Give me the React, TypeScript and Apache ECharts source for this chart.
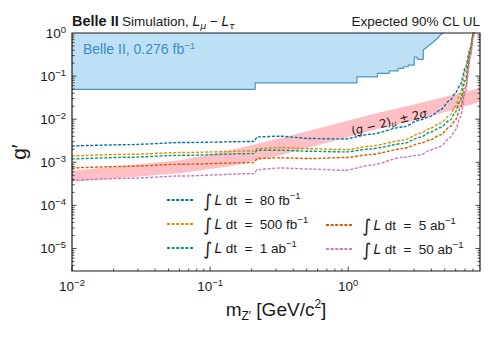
import { useEffect, useRef } from "react";
import * as echarts from "echarts";

// ---------- data ----------
const massPoints = [0.01, 0.0263, 0.0606, 0.208, 0.219, 0.3215, 0.53, 0.951, 1.443, 2.503, 3.324, 3.929, 4.642, 5.484, 5.963, 6.479, 7.043, 7.657, 8.05, 8.2];
const lumi80fb = [2.39e-3, 2.57e-3, 2.87e-3, 3.03e-3, 3.88e-3, 4.03e-3, 3.56e-3, 3.48e-3, 4.48e-3, 6.62e-3, 9.63e-3, 1.16e-2, 1.64e-2, 2.81e-2, 4.02e-2, 6.28e-2, 0.153, 0.448, 1.0, 1.5];
const lumi500fb = [1.4e-3, 1.53e-3, 1.68e-3, 1.83e-3, 2.08e-3, 2.2e-3, 2.06e-3, 1.97e-3, 2.36e-3, 3.25e-3, 4.72e-3, 6.18e-3, 8.07e-3, 1.26e-2, 1.97e-2, 4.02e-2, 0.129, 0.448, 1.0, 1.4];
const lumi1ab = [1.19e-3, 1.31e-3, 1.45e-3, 1.59e-3, 1.9e-3, 1.9e-3, 1.8e-3, 1.74e-3, 2.04e-3, 2.72e-3, 3.81e-3, 4.99e-3, 6.41e-3, 9.63e-3, 1.45e-2, 2.77e-2, 8.07e-2, 0.361, 0.948, 1.3];
const lumi5ab = [7.37e-4, 8.07e-4, 8.98e-4, 9.84e-4, 1.22e-3, 1.27e-3, 1.22e-3, 1.29e-3, 1.51e-3, 2.08e-3, 2.77e-3, 3.3e-3, 4.31e-3, 6.77e-3, 9.48e-3, 1.8e-2, 5.26e-2, 0.313, 0.899, 1.25];
const lumi50ab = [3.81e-4, 4.25e-4, 4.8e-4, 5.46e-4, 6.76e-4, 7.37e-4, 6.98e-4, 6.52e-4, 8.51e-4, 1.31e-3, 1.48e-3, 1.93e-3, 2.32e-3, 3.81e-3, 5.55e-3, 1.11e-2, 4.02e-2, 0.262, 0.765, 1.05];

const lumiLabels = ["80 fb", "500 fb", "1 ab", "5 ab", "50 ab"];
const curveColors = ["#0173b2", "#de8f05", "#029e73", "#d55e00", "#cc78bc"];

// Belle II 0.276 fb^-1 excluded region (lower boundary)
const belleMass = [0.01, 0.212, 0.212, 1.156, 1.156, 1.631, 1.631, 1.982, 1.982, 2.292, 2.292, 2.516, 2.516, 2.721, 2.721, 3.008, 3.008, 3.162, 3.162, 3.495, 3.495, 3.8, 4.129, 4.414, 4.642, 4.88];
const belleLimit = [0.049, 0.049, 0.0699, 0.0699, 0.0963, 0.0963, 0.1156, 0.1156, 0.1328, 0.1328, 0.151, 0.151, 0.1646, 0.1646, 0.1803, 0.1803, 0.2766, 0.2766, 0.2446, 0.2446, 0.4025, 0.4984, 0.6175, 0.745, 0.898, 1.0];

// (g-2)_mu +- 2 sigma band
const bandMass = [0.01, 0.0606, 0.1396, 0.3214, 0.741, 1.706, 3.32, 9.0];
const bandLow = [3.52e-4, 5.55e-4, 8.07e-4, 1.46e-3, 2.97e-3, 6.18e-3, 1.0e-2, 2.49e-2];
const bandHigh = [6.34e-4, 1.11e-3, 1.9e-3, 3.61e-3, 7.25e-3, 1.45e-2, 2.36e-2, 5.26e-2];

// axes
const xMin = 0.01;
const xMax = 9;
const yMin = 3e-6;
const yMax = 1;
const xDecades = [-2, -1, 0];
const yDecades = [-6, -5, -4, -3, -2, -1, 0];

const FONT = "'Liberation Sans', Arial, sans-serif";
const MATH = "'DejaVu Sans', sans-serif";
const INK = "#1a1a1a";

const curveSeries = [lumi80fb, lumi500fb, lumi1ab, lumi5ab, lumi50ab];
const seriesNames = lumiLabels.map((l) => `∫L dt = ${l}⁻¹`);

function powLabel(v: number) {
  const e = Math.log10(v);
  const r = Math.round(e);
  if (Math.abs(e - r) > 1e-6) return "";
  return `{b|10}{s|${r < 0 ? "−" : ""}${Math.abs(r)}}`;
}

const tickRich = {
  b: { fontSize: 13.5, fontFamily: FONT, color: INK, lineHeight: 18, verticalAlign: "middle" },
  s: { fontSize: 9.5, fontFamily: FONT, color: INK, lineHeight: 7, verticalAlign: "top" },
};

export default function App() {
  const ref = useRef<HTMLDivElement>(null);
  useEffect(() => {
    if (!ref.current) return;
    const chart = echarts.init(ref.current, undefined, { renderer: "svg" });

    const legendFormatter = (name: string) => {
      const i = seriesNames.indexOf(name);
      return `{int|∫}{it|L}{n| dt  =  ${lumiLabels[i]}}{sup|−1}`;
    };
    const legendRich = {
      int: { fontFamily: MATH, fontSize: 18, lineHeight: 20, verticalAlign: "middle", color: INK, padding: [0, 2, 0, 4] },
      it: { fontFamily: MATH, fontStyle: "italic", fontSize: 13.5, lineHeight: 20, verticalAlign: "middle", color: INK },
      n: { fontFamily: FONT, fontSize: 13.5, lineHeight: 20, verticalAlign: "middle", color: INK },
      sup: { fontFamily: FONT, fontSize: 9.5, lineHeight: 12, verticalAlign: "top", color: INK },
    };
    const legendBase = {
      orient: "vertical",
      itemWidth: 27,
      itemHeight: 20,
      itemGap: 5,
      padding: 0,
      selectedMode: false,
      formatter: legendFormatter,
      itemStyle: { opacity: 0 },
      textStyle: { rich: legendRich },
    };

    const option: any = {
      animation: false,
      backgroundColor: "#ffffff",
      grid: { left: 72, right: 14, top: 33, bottom: 69, show: false },
      xAxis: {
        type: "log",
        logBase: 10,
        min: xMin,
        max: xMax,
        axisLine: { show: false },
        axisTick: { show: false },
        splitLine: { show: false },
        minorTick: { show: false },
        axisLabel: { formatter: powLabel, rich: tickRich, margin: 6, showMaxLabel: false },
        name: "{m|m}{sub|Z′}{m| [GeV/c}{sup|2}{m|]}",
        nameLocation: "middle",
        nameGap: 26,
        nameTextStyle: {
          rich: {
            m: { fontSize: 19, fontFamily: FONT, color: INK, lineHeight: 24, verticalAlign: "middle" },
            sub: { fontSize: 12, fontFamily: FONT, color: INK, lineHeight: 8, verticalAlign: "bottom" },
            sup: { fontSize: 12, fontFamily: FONT, color: INK, lineHeight: 9, verticalAlign: "top" },
          },
        },
      },
      yAxis: {
        type: "log",
        logBase: 10,
        min: yMin,
        max: yMax,
        axisLine: { show: false },
        axisTick: { show: false },
        splitLine: { show: false },
        minorTick: { show: false },
        axisLabel: { formatter: powLabel, rich: tickRich, margin: 6, showMinLabel: false },
        name: "g′",
        nameLocation: "middle",
        nameGap: 40,
        nameTextStyle: { fontSize: 21, fontFamily: FONT, color: INK },
      },
      legend: [
        { ...legendBase, data: seriesNames.slice(0, 3), left: 166, top: 190 },
        { ...legendBase, data: seriesNames.slice(3), left: 325, top: 215 },
      ],
      graphic: [
        {
          type: "text",
          x: 72,
          y: 21,
          style: {
            text: "{b|Belle II} {n|Simulation, }{it|L}{sub|μ}{n| − }{it|L}{sub|τ}",
            verticalAlign: "middle",
            align: "left",
            rich: {
              b: { fontFamily: FONT, fontWeight: "bold", fontSize: 14.5, fill: INK, lineHeight: 18, verticalAlign: "middle" },
              n: { fontFamily: FONT, fontSize: 13.5, fill: INK, lineHeight: 18, verticalAlign: "middle" },
              it: { fontFamily: MATH, fontStyle: "italic", fontSize: 13.5, fill: INK, lineHeight: 18, verticalAlign: "middle" },
              sub: { fontFamily: MATH, fontStyle: "italic", fontSize: 9.5, fill: INK, lineHeight: 8, verticalAlign: "bottom" },
            },
          },
        },
        {
          type: "text",
          x: 480,
          y: 21,
          style: { text: "Expected 90% CL UL", align: "right", verticalAlign: "middle", fontFamily: FONT, fontSize: 13.5, fill: INK },
        },
        {
          type: "text",
          x: 83,
          y: 49,
          z: 20,
          style: {
            text: "{n|Belle II, 0.276 fb}{s|−1}",
            align: "left",
            verticalAlign: "middle",
            rich: {
              n: { fontFamily: FONT, fontSize: 14, fill: "#3a8dc8", lineHeight: 18, verticalAlign: "middle" },
              s: { fontFamily: FONT, fontSize: 9.5, fill: "#3a8dc8", lineHeight: 8, verticalAlign: "top" },
            },
          },
        },
        {
          type: "text",
          x: 389,
          y: 122,
          rotation: 0.24,
          z: 20,
          style: {
            text: "{n|(}{i|g}{n| − 2)}{sub|μ}{n| ± 2}{i|σ}",
            align: "center",
            verticalAlign: "middle",
            rich: {
              n: { fontFamily: MATH, fontSize: 11.5, fill: INK, lineHeight: 14, verticalAlign: "middle" },
              i: { fontFamily: MATH, fontStyle: "italic", fontSize: 11.5, fill: INK, lineHeight: 14, verticalAlign: "middle" },
              sub: { fontFamily: MATH, fontStyle: "italic", fontSize: 8, fill: INK, lineHeight: 7, verticalAlign: "bottom" },
            },
          },
        },
      ],
      series: [
        // Belle II excluded region (fill)
        {
          type: "custom",
          name: "belleFill",
          silent: true,
          z: 1,
          data: belleMass.map((m, i) => [m, belleLimit[i]]),
          renderItem: (params: any, api: any) => {
            if (params.dataIndex !== 0) return { type: "group", children: [] };
            const pts = belleMass.map((m, i) => api.coord([m, belleLimit[i]]));
            pts.push(api.coord([belleMass[belleMass.length - 1], yMax]));
            pts.push(api.coord([belleMass[0], yMax]));
            return { type: "polygon", shape: { points: pts }, style: { fill: "#bde0f4", stroke: "none" } };
          },
        },
        {
          type: "line",
          name: "belleEdge",
          z: 2,
          symbol: "none",
          silent: true,
          data: belleMass.map((m, i) => [m, belleLimit[i]]),
          lineStyle: { color: "#4596cc", width: 1.2 },
        },
        // (g-2) band
        {
          type: "custom",
          name: "g2band",
          silent: true,
          z: 3,
          data: bandMass.map((m, i) => [m, bandLow[i], bandHigh[i]]),
          renderItem: (params: any, api: any) => {
            if (params.dataIndex !== 0) return { type: "group", children: [] };
            const up = bandMass.map((m, i) => api.coord([m, bandHigh[i]]));
            const lo = bandMass.map((m, i) => api.coord([m, bandLow[i]])).reverse();
            return { type: "polygon", shape: { points: up.concat(lo) }, style: { fill: "#ffbfc5", stroke: "none" } };
          },
        },
        ...curveSeries.map((vals, k) => ({
          type: "line",
          name: seriesNames[k],
          z: 5,
          symbol: "none",
          smooth: 0.25,
          smoothMonotone: "x",
          clip: true,
          data: massPoints.map((m, i) => [m, vals[i]]),
          lineStyle: { color: curveColors[k], width: 1.4, type: [3, 1.6] },
          itemStyle: { color: curveColors[k] },
        })),
        // frame and ticks
        {
          type: "custom",
          name: "frame",
          silent: true,
          z: 10,
          clip: false,
          data: [[1, 1e-3]],
          renderItem: (params: any, api: any) => {
            const cs = params.coordSys;
            const L = cs.x, R = cs.x + cs.width, T = cs.y, B = cs.y + cs.height;
            const ch: any[] = [];
            const seg = (x1: number, y1: number, x2: number, y2: number) =>
              ch.push({ type: "line", shape: { x1, y1, x2, y2 }, style: { stroke: INK, lineWidth: 0.8 } });
            xDecades.forEach((d) => {
              for (let k = 1; k <= 9; k++) {
                const v = k * Math.pow(10, d);
                if (v <= xMin * 0.999 || v >= xMax * 0.999) continue;
                const x = api.coord([v, 1e-3])[0];
                seg(x, B, x, B - (k === 1 ? 4.5 : 2.5));
              }
            });
            yDecades.forEach((d) => {
              for (let k = 1; k <= 9; k++) {
                const v = k * Math.pow(10, d);
                if (v <= yMin * 1.001 || v >= yMax * 0.999) continue;
                const y = api.coord([1, v])[1];
                const len = k === 1 ? 4.5 : 2.5;
                seg(L, y, L + len, y);
                seg(R, y, R - len, y);
              }
            });
            ch.push({ type: "rect", shape: { x: L, y: T, width: R - L, height: B - T }, style: { fill: "none", stroke: INK, lineWidth: 1.2 } });
            return { type: "group", children: ch };
          },
        },
      ],
    };
    chart.setOption(option);
    return () => chart.dispose();
  }, []);
  return <div ref={ref} style={{ width: 494, height: 340, position: "absolute", left: 0, top: 0 }} />;
}
